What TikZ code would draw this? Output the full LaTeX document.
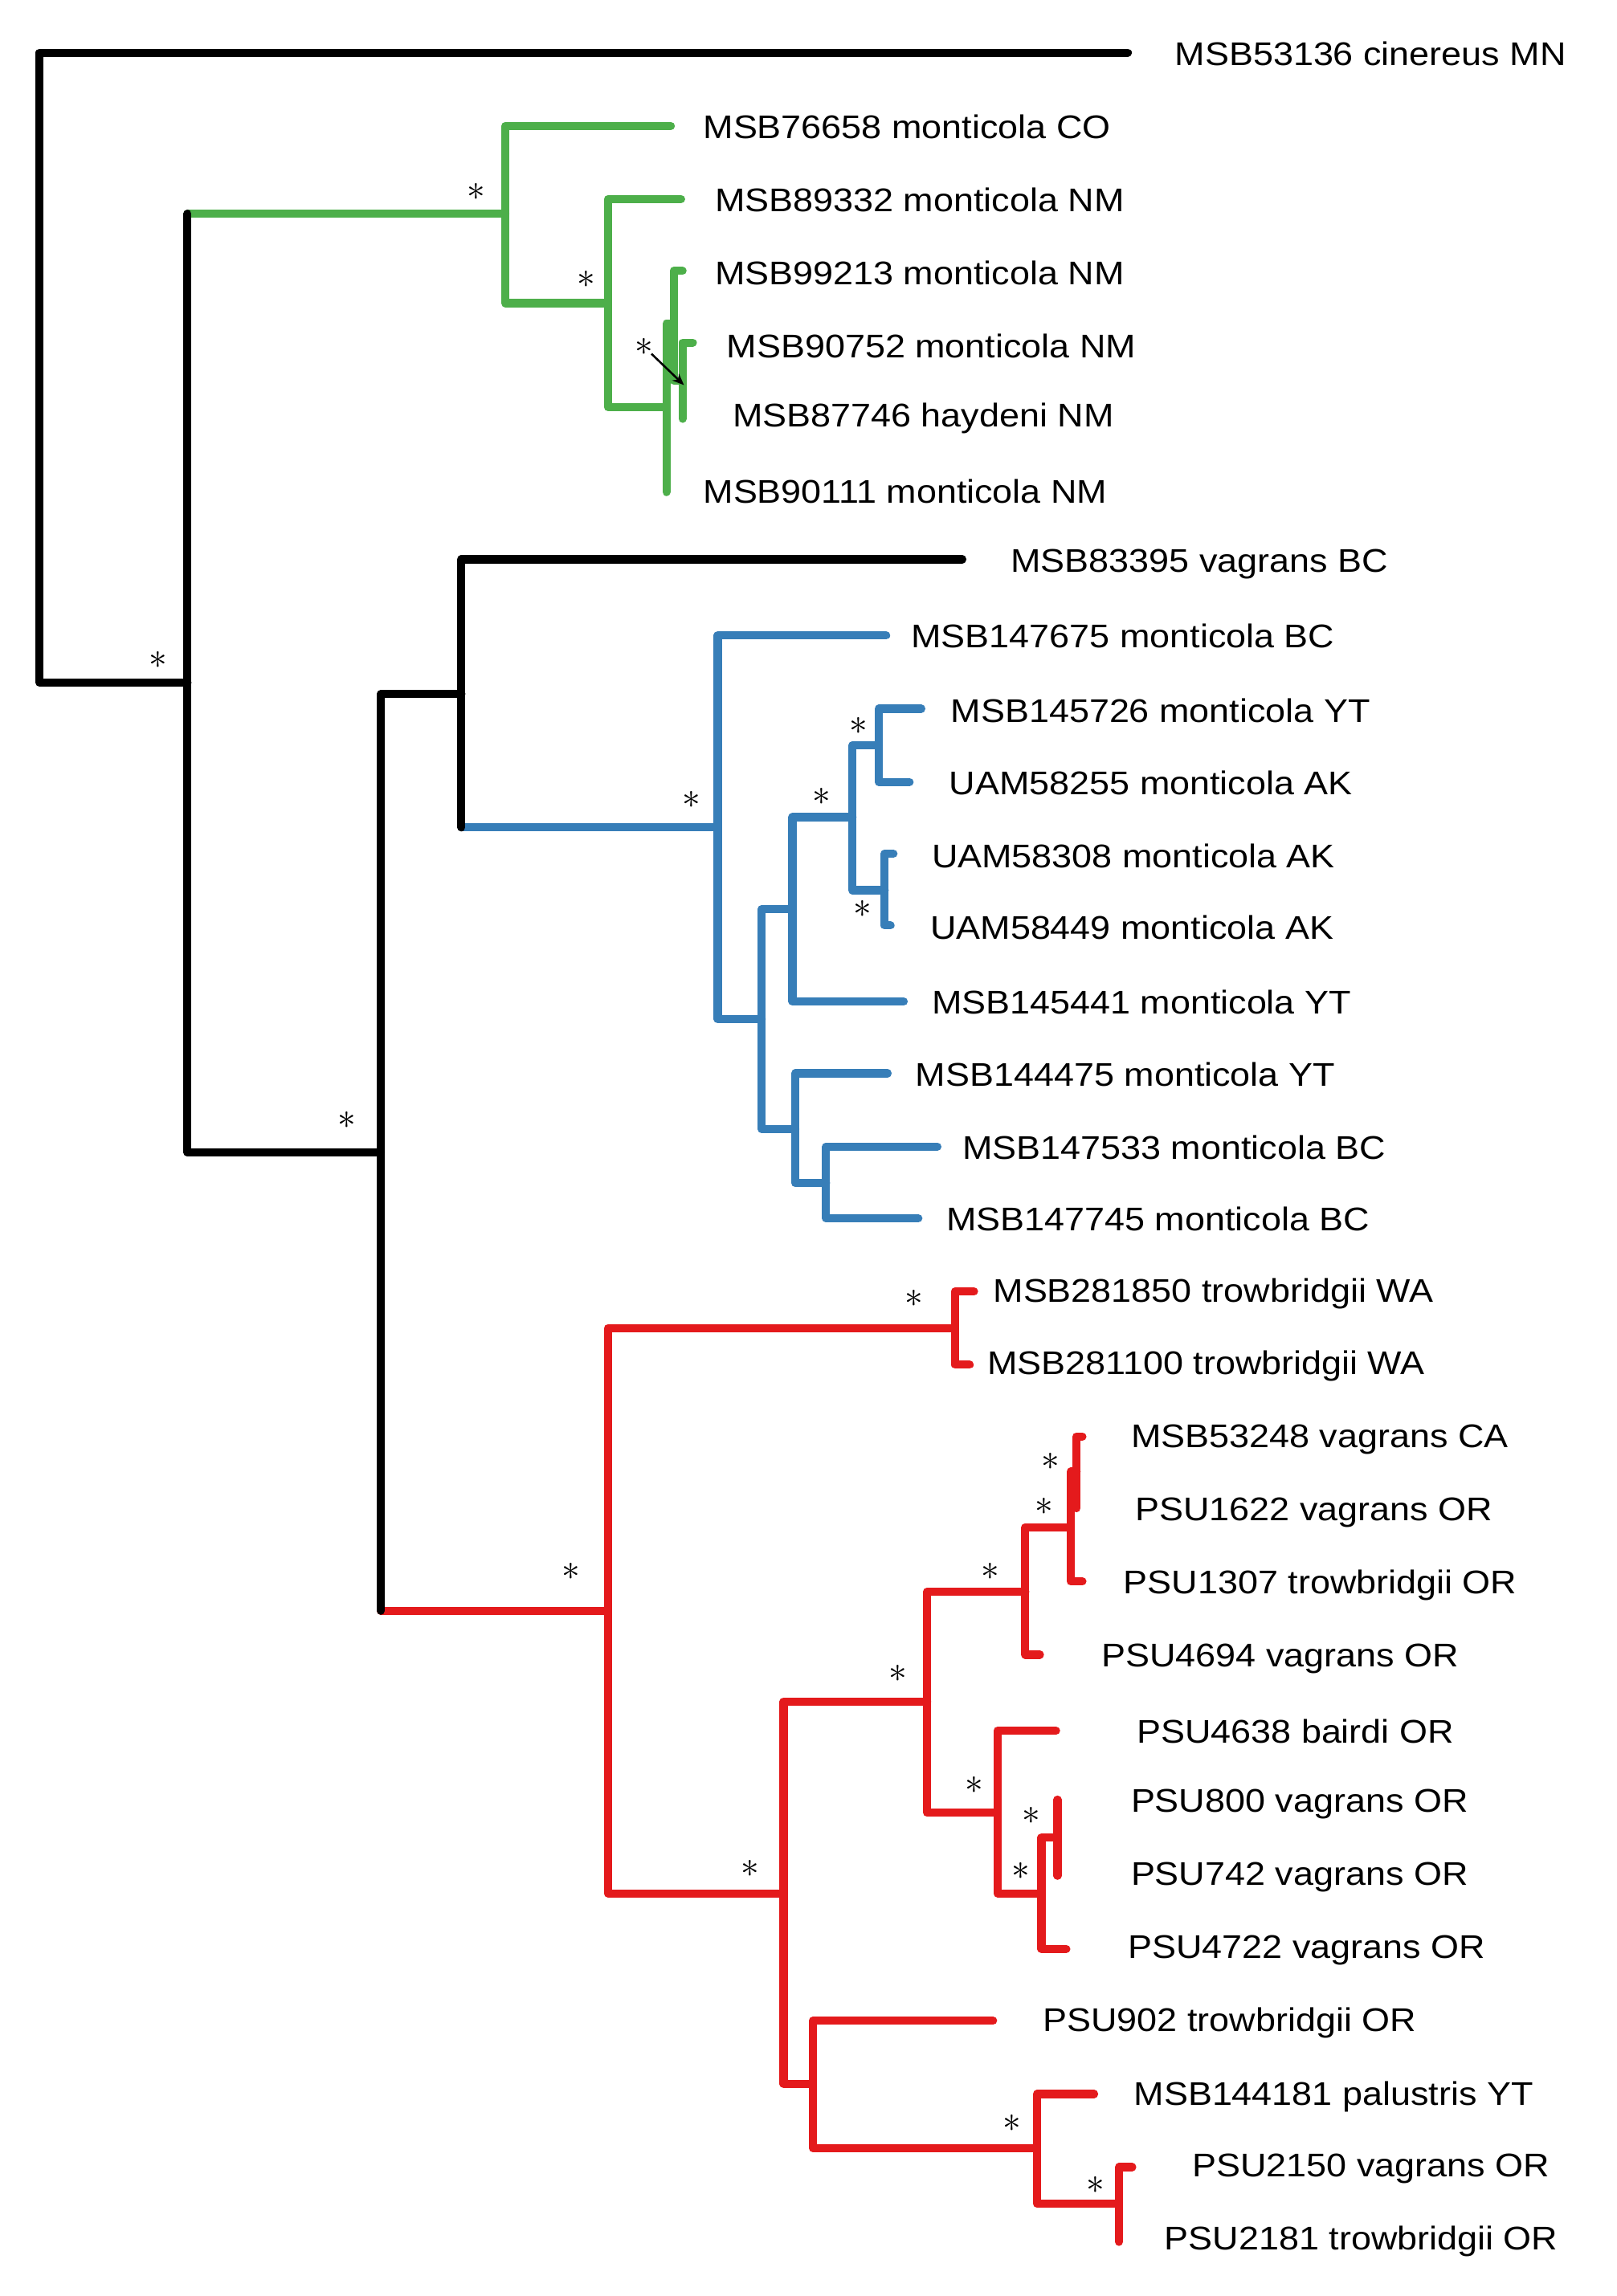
\documentclass[tikz,border=0pt]{standalone}
\usepackage{fontspec}
\setmainfont[FakeStretch=1.1]{Liberation Sans}
\usetikzlibrary{arrows.meta}
\definecolor{tgreen}{RGB}{77,175,74}
\definecolor{tblue}{RGB}{55,126,184}
\definecolor{tred}{RGB}{228,26,28}
\begin{document}
\begin{tikzpicture}[x=1pt,y=-1pt,
  br/.style={line width=5.6pt,line cap=round,line join=round},
  blk/.style={br,black},
  grn/.style={br,tgreen},
  blu/.style={br,tblue},
  rd/.style={br,tred},
  lab/.style={anchor=base west,inner sep=0pt,font=\fontsize{22.4}{26}\selectfont},
  star/.style={inner sep=0pt,font=\fontsize{30}{30}\selectfont}]
\useasboundingbox (0,0) rectangle (1104,1568);
% tips
\coordinate (t1) at (770,36);
\coordinate (t2) at (458,86);
\coordinate (t3) at (465,136);
\coordinate (t4) at (466,185);
\coordinate (t5) at (473,234);
\coordinate (t6) at (466,286);
\coordinate (t7) at (455,336);
\coordinate (t8) at (657,382);
\coordinate (t9) at (605,434);
\coordinate (t10) at (629,484);
\coordinate (t11) at (621,534);
\coordinate (t12) at (610,583);
\coordinate (t13) at (608,632);
\coordinate (t14) at (617,684);
\coordinate (t15) at (606,733);
\coordinate (t16) at (640,783);
\coordinate (t17) at (627,832);
\coordinate (t18) at (665,882);
\coordinate (t19) at (662,932);
\coordinate (t20) at (739,981);
\coordinate (t21) at (735,1030);
\coordinate (t22) at (739,1080);
\coordinate (t23) at (710,1130);
\coordinate (t24) at (721,1182);
\coordinate (t25) at (722,1229);
\coordinate (t26) at (722,1281);
\coordinate (t27) at (728,1331);
\coordinate (t28) at (678,1380);
\coordinate (t29) at (747,1430);
\coordinate (t30) at (773,1480);
\coordinate (t31) at (764,1531);
% internal nodes
\coordinate (root) at (27,251);
\coordinate (n1) at (128,466);
\coordinate (g1) at (345,146);
\coordinate (g2) at (415,207);
\coordinate (g3) at (455,278);
\coordinate (g4) at (460,221);
\coordinate (g5) at (466,260);
\coordinate (n2) at (260,787);
\coordinate (n3) at (315,474);
\coordinate (b1) at (490,565);
\coordinate (b2) at (520,696);
\coordinate (b3) at (541,621);
\coordinate (b4) at (582,558);
\coordinate (b5) at (600,509);
\coordinate (b6) at (604,608);
\coordinate (b7) at (543,771);
\coordinate (b8) at (564,808);
\coordinate (r1) at (415,1100);
\coordinate (r2) at (652,907);
\coordinate (r3) at (535,1293);
\coordinate (r4) at (633,1162);
\coordinate (r5) at (700,1087);
\coordinate (r6) at (731,1043);
\coordinate (r7) at (735,1005);
\coordinate (r8) at (681,1238);
\coordinate (r9) at (711,1293);
\coordinate (r10) at (722,1255);
\coordinate (r11) at (555,1423);
\coordinate (r12) at (708,1467);
\coordinate (r13) at (764,1505);
% green clade
\draw[grn] (n1 |- g1) -- (g1);
\draw[grn] (g1) |- (t2);
\draw[grn] (g1) |- (g2);
\draw[grn] (g2) |- (t3);
\draw[grn] (g2) |- (g3);
\draw[grn] (g3) |- (g4);
\draw[grn] (g3) |- (t7);
\draw[grn] (g4) |- (t4);
\draw[grn] (g4) |- (g5);
\draw[grn] (g5) |- (t5);
\draw[grn] (g5) |- (t6);
% blue clade
\draw[blu] (n3 |- b1) -- (b1);
\draw[blu] (b1) |- (t9);
\draw[blu] (b1) |- (b2);
\draw[blu] (b2) |- (b3);
\draw[blu] (b2) |- (b7);
\draw[blu] (b3) |- (b4);
\draw[blu] (b3) |- (t14);
\draw[blu] (b4) |- (b5);
\draw[blu] (b4) |- (b6);
\draw[blu] (b5) |- (t10);
\draw[blu] (b5) |- (t11);
\draw[blu] (b6) |- (t12);
\draw[blu] (b6) |- (t13);
\draw[blu] (b7) |- (t15);
\draw[blu] (b7) |- (b8);
\draw[blu] (b8) |- (t16);
\draw[blu] (b8) |- (t17);
% red clade
\draw[rd] (n2 |- r1) -- (r1);
\draw[rd] (r1) |- (r2);
\draw[rd] (r1) |- (r3);
\draw[rd] (r2) |- (t18);
\draw[rd] (r2) |- (t19);
\draw[rd] (r3) |- (r4);
\draw[rd] (r3) |- (r11);
\draw[rd] (r4) |- (r5);
\draw[rd] (r4) |- (r8);
\draw[rd] (r5) |- (r6);
\draw[rd] (r5) |- (t23);
\draw[rd] (r6) |- (r7);
\draw[rd] (r6) |- (t22);
\draw[rd] (r7) |- (t20);
\draw[rd] (r7) |- (t21);
\draw[rd] (r8) |- (t24);
\draw[rd] (r8) |- (r9);
\draw[rd] (r9) |- (r10);
\draw[rd] (r9) |- (t27);
\draw[rd] (r10) |- (t25);
\draw[rd] (r10) |- (t26);
\draw[rd] (r11) |- (t28);
\draw[rd] (r11) |- (r12);
\draw[rd] (r12) |- (t29);
\draw[rd] (r12) |- (r13);
\draw[rd] (r13) |- (t30);
\draw[rd] (r13) |- (t31);
% black backbone
\draw[blk] (root) |- (t1);
\draw[blk] (root) |- (n1);
\draw[blk] (n1) -- (n1 |- g1);
\draw[blk] (n1) |- (n2);
\draw[blk] (n2) |- (n3);
\draw[blk] (n2) -- (n2 |- r1);
\draw[blk] (n3) |- (t8);
\draw[blk] (n3) -- (n3 |- b1);
% labels
\node[lab] (l1) at (802,44.5) {MSB53136 cinereus MN};
\node[lab] (l2) at (480,94.5) {MSB76658 monticola CO};
\node[lab] (l3) at (488,144.5) {MSB89332 monticola NM};
\node[lab] (l4) at (488,194.5) {MSB99213 monticola NM};
\node[lab] (l5) at (496,244.5) {MSB90752 monticola NM};
\node[lab] (l6) at (500,291.5) {MSB87746 haydeni NM};
\node[lab] (l7) at (480,343.5) {MSB90111 monticola NM};
\node[lab] (l8) at (690,390.5) {MSB83395 vagrans BC};
\node[lab] (l9) at (622,442.5) {MSB147675 monticola BC};
\node[lab] (l10) at (649,493.5) {MSB145726 monticola YT};
\node[lab] (l11) at (648,542.5) {UAM58255 monticola AK};
\node[lab] (l12) at (636,592.5) {UAM58308 monticola AK};
\node[lab] (l13) at (635,641.5) {UAM58449 monticola AK};
\node[lab] (l14) at (636,692.5) {MSB145441 monticola YT};
\node[lab] (l15) at (625,741.5) {MSB144475 monticola YT};
\node[lab] (l16) at (657,791.5) {MSB147533 monticola BC};
\node[lab] (l17) at (646,840.5) {MSB147745 monticola BC};
\node[lab] (l18) at (678,889.5) {MSB281850 trowbridgii WA};
\node[lab] (l19) at (674,938.5) {MSB281100 trowbridgii WA};
\node[lab] (l20) at (772,988.5) {MSB53248 vagrans CA};
\node[lab] (l21) at (775,1038.5) {PSU1622 vagrans OR};
\node[lab] (l22) at (767,1088.5) {PSU1307 trowbridgii OR};
\node[lab] (l23) at (752,1138.5) {PSU4694 vagrans OR};
\node[lab] (l24) at (776,1190.5) {PSU4638 bairdi OR};
\node[lab] (l25) at (772,1237.5) {PSU800 vagrans OR};
\node[lab] (l26) at (772,1287.5) {PSU742 vagrans OR};
\node[lab] (l27) at (770,1337.5) {PSU4722 vagrans OR};
\node[lab] (l28) at (712,1387.5) {PSU902 trowbridgii OR};
\node[lab] (l29) at (774,1437.5) {MSB144181 palustris YT};
\node[lab] (l30) at (814,1486.5) {PSU2150 vagrans OR};
\node[lab] (l31) at (795,1536.5) {PSU2181 trowbridgii OR};
% support asterisks
\node[star] (s1) at (108,451) {$\ast$};
\node[star] (s2) at (325,131) {$\ast$};
\node[star] (s3) at (400,191) {$\ast$};
\node[star] (s4) at (440,237) {$\ast$};
\node[star] (s5) at (237,765) {$\ast$};
\node[star] (s6) at (472,546) {$\ast$};
\node[star] (s7) at (561,544) {$\ast$};
\node[star] (s8) at (586,496) {$\ast$};
\node[star] (s9) at (589,621) {$\ast$};
\node[star] (s10) at (390,1073) {$\ast$};
\node[star] (s11) at (624,887) {$\ast$};
\node[star] (s12) at (512,1276) {$\ast$};
\node[star] (s13) at (613,1143) {$\ast$};
\node[star] (s14) at (676,1073) {$\ast$};
\node[star] (s15) at (713,1029) {$\ast$};
\node[star] (s16) at (717,998) {$\ast$};
\node[star] (s17) at (665,1219) {$\ast$};
\node[star] (s18) at (704,1240) {$\ast$};
\node[star] (s19) at (697,1278) {$\ast$};
\node[star] (s20) at (691,1450) {$\ast$};
\node[star] (s21) at (748,1492) {$\ast$};
% arrow
\coordinate (aE) at (467,263);
\draw[line width=1.4pt,shorten <=-2pt,-{Stealth[length=8pt,width=6.5pt]}] (s4) -- (aE);
\end{tikzpicture}
\end{document}
